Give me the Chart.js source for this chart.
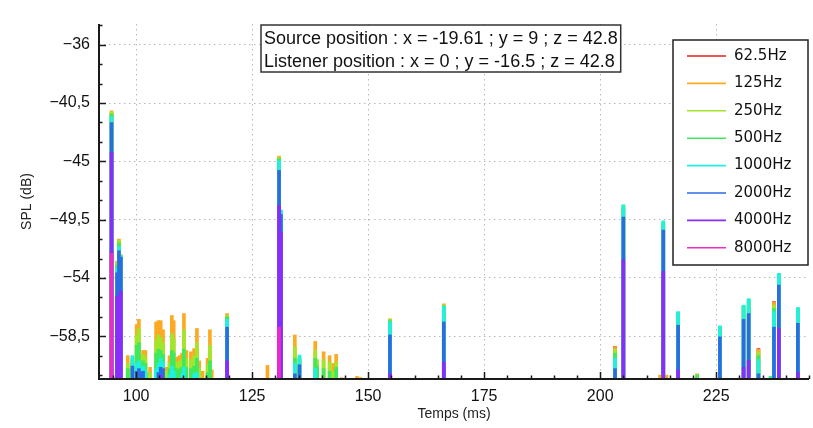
<!DOCTYPE html>
<html>
<head>
<meta charset="utf-8">
<title>SPL</title>
<script src="https://cdn.jsdelivr.net/npm/chart.js@4.4.1/dist/chart.umd.min.js"></script>
<style>
    html, body { margin: 0; padding: 0; background: #fff; }
    canvas { display: block; }
</style>
</head>
<body>
<canvas id="splChart" width="813" height="428"></canvas>
<script>
// arrival times (ms)
var times = [94.7, 95.9, 96.3, 96.7, 98.2, 98.6, 99.2, 100.1, 100.6, 101.0,
    101.5, 102.0, 102.5, 103.0, 104.3, 104.8, 105.3, 105.8, 106.2, 106.6,
    107.2, 107.7, 108.1, 108.5, 109.0, 109.4, 109.9, 110.3, 110.8, 111.8,
    112.5, 113.1, 113.6, 114.3, 115.4, 115.9, 116.3, 119.6, 128.3, 130.8,
    131.2, 134.2, 135.2, 138.6, 139.0, 140.4, 141.7, 142.5, 143.1, 144.3,
    147.6, 148.4, 154.7, 166.3, 203.2, 205.0, 212.9, 213.6, 214.3, 216.8,
    220.9, 225.8, 230.9, 232.0, 234.1, 236.7, 237.45, 238.5, 242.6];

// SPL (dB) per octave band, same order as times
var spl62 = [-41.3, -52.9, -51.2, -52.4, null, null, null, null, null, null,
    null, null, null, null, null, null, null, null, null, null,
    null, null, null, null, null, null, null, null, null, null,
    null, null, null, null, null, null, null, null, null, -44.7,
    null, null, null, null, null, null, null, null, null, null,
    null, null, null, null, -59.28, null, null, null, null, null,
    null, null, null, null, -59.45, null, -55.82, null, null];
var spl125 = [-41.1, -52.7, -51.0, -52.2, -60.0, -61.1, -60.5, -57.6, -57.2, -60.0,
    -59.6, -59.6, -61.3, -60.9, -57.4, -57.3, -57.3, -58.0, -61.0, -60.9,
    -60.0, -56.9, -57.3, -60.2, -60.1, -60.0, -59.8, -56.75, -59.6, -59.7,
    -59.45, -57.9, -60.4, -61.2, -60.2, -58.0, -61.1, -56.75, -60.75, -44.6,
    -49.0, -58.4, -60.3, -58.9, -60.6, -59.7, -60.0, -60.6, -59.9, -61.7,
    -61.6, -61.7, -57.15, -56.0, -59.3, -48.6, -61.5, -49.9, -61.5, -56.8,
    -61.4, -57.9, -56.3, -55.8, -59.5, null, -55.85, -53.7, -56.4];
var spl250 = [-41.2, -52.8, -51.1, -52.25, -60.6, -61.4, -60.3, -58.4, -57.9, -60.3,
    -59.9, -60.1, -61.5, -61.3, -58.8, -58.4, -58.6, -59.0, -61.3, -61.2,
    -60.5, -58.3, -58.7, -60.6, -60.5, -60.4, -60.3, -58.0, -60.2, -60.3,
    -60.0, -59.0, -61.0, null, -60.7, -59.2, null, -56.9, null, -44.7,
    -48.9, -59.3, -60.2, -59.6, -60.3, -60.3, -60.5, -61.2, -60.5, null,
    null, null, -57.2, -56.1, -59.5, -48.5, null, -49.8, null, -56.7,
    -61.45, -57.8, -56.2, -55.7, -59.7, null, -56.1, -53.65, -56.35];
var spl500 = [-41.35, -53.0, -51.3, -52.3, -61.0, null, -60.2, -59.2, -59.0, -60.7,
    -60.4, -60.6, null, null, -59.8, -59.5, -59.6, -59.9, null, null,
    -61.0, -59.6, -59.8, -61.0, -61.1, -61.0, -60.9, -59.5, -60.9, -61.0,
    -60.8, -60.2, null, null, -61.3, -60.4, null, -57.0, null, -44.8,
    -48.8, -60.2, -60.1, -60.2, -60.8, -61.0, -61.2, null, -60.9, null,
    null, null, -57.3, -56.15, -59.8, -48.35, null, -49.7, null, -56.65,
    -61.5, -57.75, -56.15, -55.65, -60.0, -61.6, -56.35, -53.65, -56.3];
var spl1000 = [-41.55, -53.3, -51.6, -52.3, null, null, -60.0, -60.6, -60.4, -61.0,
    -60.8, -61.1, null, null, -61.0, -60.6, -60.2, -60.5, null, null,
    -61.5, -60.8, -61.2, null, null, null, -61.4, -60.9, null, null,
    -61.4, -61.3, null, null, null, null, null, -57.2, null, -44.95,
    -48.75, -60.6, -59.95, -61.0, null, null, null, null, null, null,
    null, null, -57.4, -56.2, -60.2, -48.4, null, -49.6, null, -56.6,
    null, -57.7, -56.1, -55.6, -60.3, -61.7, -56.6, -53.65, -56.3];
var spl2000 = [-42.0, -53.6, -51.9, -52.4, null, null, -60.8, -61.2, -61.0, -61.3,
    -61.2, null, null, null, null, -61.3, -60.9, -61.0, null, null,
    null, null, null, null, null, null, null, null, null, null,
    null, null, null, null, null, null, null, -57.8, null, -45.7,
    -49.1, -61.4, -60.7, null, null, null, null, null, null, null,
    null, null, -58.4, -57.4, -61.0, -49.3, null, -50.3, null, -57.65,
    null, -58.55, -57.2, -56.75, -61.4, null, -57.8, -54.55, -57.5];
var spl4000 = [-44.3, -55.4, -55.6, -55.0, null, null, null, null, null, null,
    null, null, null, null, null, null, -61.5, null, null, null,
    null, null, null, null, null, null, null, null, null, null,
    null, null, null, null, null, null, null, -60.4, null, -48.4,
    -50.5, null, null, null, null, null, null, null, null, null,
    null, null, -61.4, -60.5, null, -52.6, null, -53.5, null, -61.1,
    null, null, -60.9, -60.35, null, null, null, -57.9, -61.3];
var spl8000 = [-52.1, null, null, null, null, null, null, null, null, null,
    null, null, null, null, null, null, null, null, null, null,
    null, null, null, null, null, null, null, null, null, null,
    null, null, null, null, null, null, null, null, null, -57.8,
    null, null, null, null, null, null, null, null, null, null,
    null, null, null, null, null, null, null, null, null, null,
    null, null, null, null, null, null, null, null, null];

var bandLabels = ['62.5Hz', '125Hz', '250Hz', '500Hz', '1000Hz', '2000Hz', '4000Hz', '8000Hz'];
var bandValues = [spl62, spl125, spl250, spl500, spl1000, spl2000, spl4000, spl8000];
var bandColors = ['#e0201c', '#fbaa22', '#a2e62c', '#3fe85c', '#1ff0e2', '#2a6de2', '#8a2cfc', '#f02ac8'];

var xTicks = [100, 125, 150, 175, 200, 225];
var yTicks = [-58.5, -54, -49.5, -45, -40.5, -36];
var yTickLabels = ['\u221258,5', '\u221254', '\u221249,5', '\u221245', '\u221240,5', '\u221236'];

var infoLines = [
    'Source position : x = -19.61 ; y = 9 ; z = 42.8',
    'Listener position : x = 0 ; y = -16.5 ; z = 42.8'
];

var xMin = 92, xMax = 245;
var yMin = -61.8, yMax = -34.4;
var xMinorStep = 5, yMinorStep = 1.5;

Chart.defaults.font.family = '"Liberation Sans", Arial, sans-serif';
Chart.defaults.color = '#111';

var datasets = bandLabels.map(function(label, i) {
    var points = [];
    times.forEach(function(t, k) {
        var v = bandValues[i][k];
        if (v !== null) points.push({ x: t, y: [yMin, v] });
    });
    return {
        label: label,
        data: points,
        backgroundColor: bandColors[i],
        borderWidth: 0,
        barThickness: 3,
        grouped: false,
        order: bandLabels.length - 1 - i
    };
});

function isOnList(v, list) {
    for (var i = 0; i < list.length; i++) {
        if (Math.abs(list[i] - v) < 1e-6) return true;
    }
    return false;
}

// inward tick marks and axis lines
var axisTicksPlugin = {
    id: 'axisTicks',
    afterDatasetsDraw: function(chart) {
        var ctx = chart.ctx, a = chart.chartArea;
        var xs = chart.scales.x, ys = chart.scales.y;
        ctx.save();
        ctx.strokeStyle = '#1a1a1a';
        ctx.lineWidth = 1.5;
        ctx.beginPath();
        for (var k = Math.ceil(ys.min / yMinorStep); k * yMinorStep <= ys.max; k++) {
            var v = k * yMinorStep;
            var py = Math.round(ys.getPixelForValue(v)) + 0.5;
            var len = isOnList(v, yTicks) ? 7 : 3.5;
            ctx.moveTo(a.left, py);
            ctx.lineTo(a.left + len, py);
        }
        for (var j = Math.ceil(xs.min / xMinorStep); j * xMinorStep <= xs.max; j++) {
            var u = j * xMinorStep;
            var px = Math.round(xs.getPixelForValue(u)) + 0.5;
            var l2 = isOnList(u, xTicks) ? 7 : 3.5;
            ctx.moveTo(px, a.bottom);
            ctx.lineTo(px, a.bottom - l2);
        }
        ctx.stroke();
        ctx.lineWidth = 2;
        ctx.beginPath();
        ctx.moveTo(a.left, a.top);
        ctx.lineTo(a.left, a.bottom);
        ctx.lineTo(a.right, a.bottom);
        ctx.stroke();
        ctx.restore();
    }
};

var infoBoxPlugin = {
    id: 'infoBox',
    afterDraw: function(chart) {
        var ctx = chart.ctx;
        ctx.save();
        ctx.font = '18px "Liberation Sans", Arial, sans-serif';
        var w = 0;
        infoLines.forEach(function(s) { w = Math.max(w, ctx.measureText(s).width); });
        var bx = 261, by = 25, bw = w + 6, bh = 47;
        ctx.fillStyle = '#fff';
        ctx.fillRect(bx, by, bw, bh);
        ctx.strokeStyle = '#333';
        ctx.lineWidth = 1.5;
        ctx.strokeRect(bx, by, bw, bh);
        ctx.fillStyle = '#111';
        ctx.textBaseline = 'alphabetic';
        infoLines.forEach(function(s, i) {
            ctx.fillText(s, bx + 3, by + 18.5 + i * 23.3);
        });
        ctx.restore();
    }
};

var legendBoxPlugin = {
    id: 'legendBox',
    afterDraw: function(chart) {
        var ctx = chart.ctx;
        var bx = 673, by = 40, bw = 135, bh = 225;
        ctx.save();
        ctx.fillStyle = '#fff';
        ctx.fillRect(bx, by, bw, bh);
        ctx.strokeStyle = '#222';
        ctx.lineWidth = 1.5;
        ctx.strokeRect(bx, by, bw, bh);
        ctx.font = '15px "DejaVu Sans", sans-serif';
        ctx.textBaseline = 'middle';
        chart.data.datasets.forEach(function(ds, i) {
            var cy = by + 16 + i * 27.4;
            ctx.strokeStyle = ds.backgroundColor;
            ctx.lineWidth = 1.6;
            ctx.beginPath();
            ctx.moveTo(bx + 14, cy);
            ctx.lineTo(bx + 53, cy);
            ctx.stroke();
            ctx.fillStyle = '#111';
            ctx.fillText(ds.label, bx + 61, cy);
        });
        ctx.restore();
    }
};

var ctx = document.getElementById('splChart').getContext('2d');
var splChart = new Chart(ctx, {
    type: 'bar',
    data: { datasets: datasets },
    plugins: [axisTicksPlugin, infoBoxPlugin, legendBoxPlugin],
    options: {
        responsive: false,
        animation: false,
        devicePixelRatio: 1,
        layout: { padding: { top: 24, right: 4, left: 0, bottom: 0 } },
        plugins: {
            legend: { display: false },
            tooltip: { enabled: false }
        },
        scales: {
            x: {
                type: 'linear',
                min: xMin,
                max: xMax,
                offset: false,
                afterBuildTicks: function(scale) {
                    scale.ticks = xTicks.map(function(v) { return { value: v }; });
                },
                afterFit: function(scale) { scale.height = 49; },
                grid: { offset: false, color: '#b8b8b8', lineWidth: 1, drawTicks: false },
                border: { display: false, dash: [1.5, 3.5] },
                ticks: { padding: 8, maxRotation: 0, font: { size: 16 }, color: '#111' },
                title: {
                    display: true,
                    text: 'Temps (ms)',
                    font: { size: 14 },
                    color: '#222',
                    padding: { top: 0, bottom: 5.5 }
                }
            },
            y: {
                type: 'linear',
                min: yMin,
                max: yMax,
                beginAtZero: false,
                afterBuildTicks: function(scale) {
                    scale.ticks = yTicks.map(function(v) { return { value: v }; });
                },
                afterFit: function(scale) { scale.width = 99; },
                grid: { color: '#b8b8b8', lineWidth: 1, drawTicks: false },
                border: { display: false, dash: [1.5, 3.5] },
                ticks: {
                    padding: 9,
                    font: { size: 16 },
                    color: '#111',
                    callback: function(value) {
                        return yTickLabels[yTicks.indexOf(value)];
                    }
                },
                title: {
                    display: true,
                    text: 'SPL (dB)',
                    font: { size: 14 },
                    color: '#222',
                    padding: { top: 19, bottom: 0 }
                }
            }
        }
    }
});
</script>
</body>
</html>
